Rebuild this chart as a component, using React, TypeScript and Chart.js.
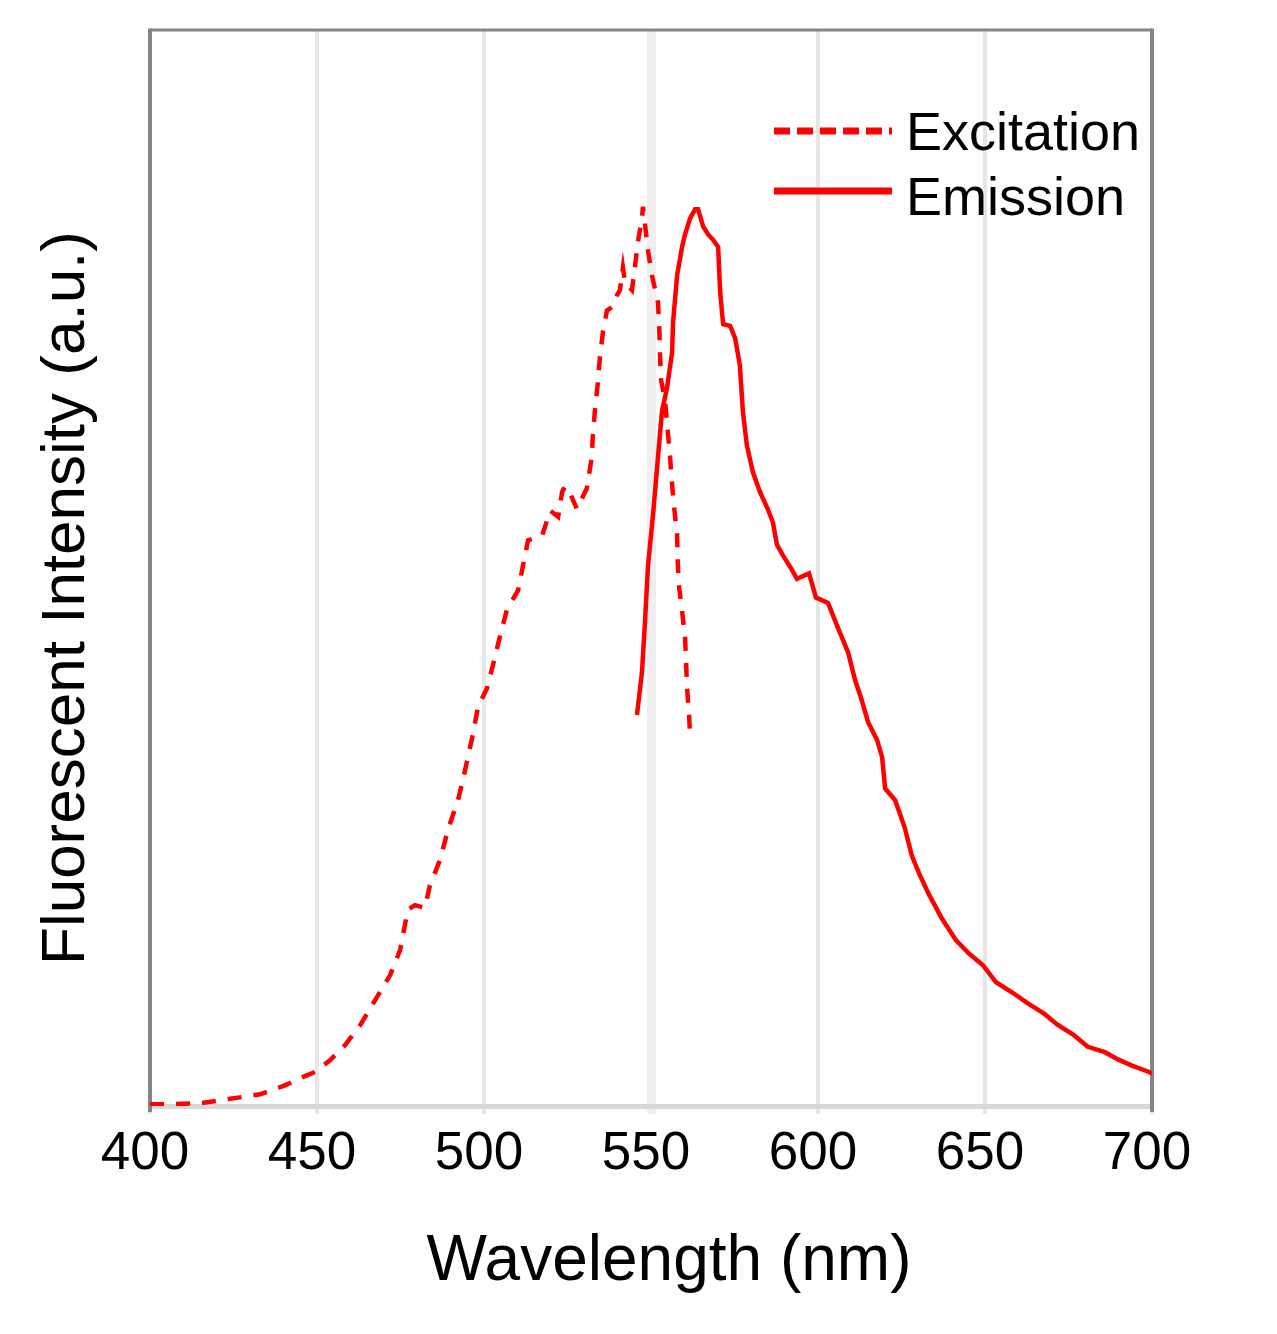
import { useEffect, useRef } from "react";
import { Chart, registerables } from "chart.js";

Chart.register(...registerables);

// excitation scan (dashed)
const excitationNm = [
  400.0, 406.0, 415.0, 424.0, 432.9, 440.4, 444.9, 449.4, 453.9, 458.4, 462.9, 467.4, 471.9,
  474.9, 477.2, 479.3, 482.3, 483.8, 486.8, 489.2, 492.2, 493.7, 496.7, 498.2, 500.9, 502.7,
  504.8, 506.9, 510.2, 511.7, 513.2, 517.4, 519.8, 522.2, 523.4, 524.3, 525.7, 527.8, 530.8,
  532.3, 532.6, 533.2, 534.1, 534.7, 535.6, 536.8, 538.3, 539.8, 540.7, 541.6, 542.2, 544.3,
  545.2, 546.1, 547.3, 547.6, 549.1, 550.3, 552.1, 552.5, 552.7, 553.0, 554.2, 555.7, 556.3,
  556.9, 557.8, 558.0, 558.3, 559.3, 560.2, 560.5, 560.8, 561.4, 561.7,
];
const excitationValues = [
  0.2, 0.2, 0.3, 0.8, 1.3, 2.3, 3.1, 3.8, 5.1, 6.8, 9.0, 11.8, 14.6,
  17.4, 21.9, 22.4, 22.1, 24.6, 27.4, 30.8, 34.1, 36.4, 41.5, 44.5, 46.6, 49.2,
  52.4, 55.4, 57.5, 60.3, 63.1, 63.6, 66.4, 65.7, 68.5, 69.1, 68.4, 66.6, 68.9,
  72.4, 74.9, 77.5, 80.7, 83.5, 86.3, 88.7, 89.1, 90.4, 91.0, 93.5, 91.9, 91.0,
  93.6, 96.4, 99.0, 100.3, 95.4, 92.6, 89.6, 86.5, 83.8, 81.0, 78.7, 72.4, 69.4,
  66.8, 63.8, 60.8, 58.2, 55.2, 52.2, 49.6, 46.6, 43.6, 41.3,
];

// emission scan (solid)
const emissionNm = [
  545.8, 547.3, 548.2, 549.1, 550.6, 552.1, 553.3, 554.8, 556.3, 556.6, 557.8, 559.3, 560.2,
  561.7, 563.2, 564.1, 565.6, 567.1, 568.6, 570.1, 570.7, 571.6, 573.7, 575.2, 576.6, 577.5,
  578.7, 580.5, 582.6, 584.7, 586.5, 587.7, 589.5, 592.2, 593.7, 597.3, 599.4, 603.0, 606.0,
  609.0, 611.1, 612.9, 615.0, 617.7, 619.2, 620.1, 623.1, 626.0, 628.1, 630.2, 633.2, 637.1,
  641.3, 645.2, 649.4, 653.3, 658.4, 662.6, 667.7, 671.6, 676.6, 680.8, 685.9, 689.8, 694.0,
  699.1, 700.0,
];
const emissionValues = [
  43.6, 48.4, 54.0, 60.3, 65.9, 72.4, 77.5, 80.1, 84.0, 87.4, 92.6, 95.8, 97.2,
  99.0, 100.0, 100.0, 98.1, 97.2, 96.6, 95.8, 90.8, 87.2, 87.0, 85.6, 82.6, 77.5,
  73.7, 70.7, 68.5, 66.8, 65.1, 62.6, 61.4, 59.8, 58.8, 59.4, 56.7, 56.1, 53.3,
  50.6, 47.5, 45.5, 42.8, 40.8, 38.9, 35.4, 34.1, 31.0, 27.9, 26.0, 23.6, 20.9,
  18.5, 17.0, 15.7, 13.8, 12.6, 11.5, 10.3, 9.1, 7.9, 6.6, 6.0, 5.2, 4.5,
  3.8, 3.6,
];

const wavelengthTicks = [400, 450, 500, 550, 600, 650, 700];
const legendLabels = ["Excitation", "Emission"];
const xTitle = "Wavelength (nm)";
const yTitle = "Fluorescent Intensity (a.u.)";

const FONT = "Arial, 'Liberation Sans', sans-serif";
const RED = "#ff0000";

const framePlugin = {
  id: "frame",
  beforeDatasetsDraw(chart: any) {
    const { ctx, chartArea } = chart;
    const { left, right, top, bottom } = chartArea;
    ctx.save();
    ctx.strokeStyle = "#858585";
    ctx.lineWidth = 3;
    ctx.beginPath();
    ctx.moveTo(left, top);
    ctx.lineTo(right, top);
    ctx.stroke();
    ctx.lineWidth = 4;
    ctx.beginPath();
    ctx.moveTo(left, top - 1.5);
    ctx.lineTo(left, bottom + 6);
    ctx.moveTo(right, top - 1.5);
    ctx.lineTo(right, bottom + 6);
    ctx.stroke();
    ctx.restore();
  },
  afterDraw(chart: any) {
    const { ctx, chartArea } = chart;
    const { left, right, top, bottom } = chartArea;
    ctx.save();

    // legend
    const lx0 = right - 378;
    const lx1 = right - 260;
    ctx.strokeStyle = RED;
    ctx.lineWidth = 7;
    ctx.setLineDash([16, 7]);
    ctx.beginPath();
    ctx.moveTo(lx0, top + 101);
    ctx.lineTo(lx1, top + 101);
    ctx.stroke();
    ctx.setLineDash([]);
    ctx.beginPath();
    ctx.moveTo(lx0, top + 161);
    ctx.lineTo(lx1, top + 161);
    ctx.stroke();

    ctx.fillStyle = "#000";
    ctx.font = `54px ${FONT}`;
    ctx.textAlign = "left";
    ctx.textBaseline = "alphabetic";
    ctx.fillText(legendLabels[0], right - 246, top + 120);
    ctx.fillText(legendLabels[1], right - 246, top + 185);

    // axis titles
    ctx.font = `64px ${FONT}`;
    ctx.textAlign = "center";
    ctx.fillText(xTitle, (left + right) / 2 + 18, bottom + 174);

    ctx.font = `62px ${FONT}`;
    ctx.translate(left - 66, (top + bottom) / 2 + 30);
    ctx.rotate(-Math.PI / 2);
    ctx.fillText(yTitle, 0, 0);
    ctx.restore();
  },
};

const SpectrumChart = () => {
  const chartRef: any = useRef(null);

  useEffect(() => {
    const ctx = chartRef.current.getContext("2d");

    const theChart = new Chart(ctx, {
      type: "line",
      data: {
        datasets: [
          {
            label: legendLabels[0],
            data: excitationNm.map((x, i) => ({ x, y: excitationValues[i] })),
            borderColor: RED,
            borderWidth: 4.5,
            borderDash: [14, 12],
            pointRadius: 0,
            tension: 0,
            fill: false,
          },
          {
            label: legendLabels[1],
            data: emissionNm.map((x, i) => ({ x, y: emissionValues[i] })),
            borderColor: RED,
            borderWidth: 4.5,
            pointRadius: 0,
            tension: 0,
            fill: false,
          },
        ],
      },
      plugins: [framePlugin],
      options: {
        animation: false,
        responsive: true,
        maintainAspectRatio: false,
        devicePixelRatio: 1,
        layout: {
          padding: { left: 150, right: 125, top: 30, bottom: 0 },
        },
        plugins: {
          legend: { display: false },
          tooltip: { enabled: false },
        },
        scales: {
          x: {
            type: "linear",
            min: 400,
            max: 700,
            afterBuildTicks: (scale: any) => {
              scale.ticks = wavelengthTicks.map((value) => ({ value }));
            },
            afterFit: (scale: any) => {
              scale.height = 228;
            },
            ticks: {
              color: "#000",
              font: { family: FONT, size: 53 },
              padding: 9,
              labelOffset: -5,
              maxRotation: 0,
              autoSkip: false,
            },
            grid: {
              color: (c: any) => (c.tick && c.tick.value === 550 ? "#efefef" : "#e6e6e6"),
              lineWidth: (c: any) => (c.tick && c.tick.value === 550 ? 9 : 4),
              tickLength: 8,
            },
            border: { display: true, color: "#d8d8d8", width: 5 },
          },
          y: {
            display: false,
            min: 0,
            max: 120,
          },
        },
      },
    });

    return () => {
      theChart.destroy();
    };
  }, []);

  return <canvas ref={chartRef} />;
};

export default function App() {
  return (
    <div style={{ position: "fixed", left: 0, top: 0, width: 1277, height: 1334, background: "#fff" }}>
      <SpectrumChart />
    </div>
  );
}
